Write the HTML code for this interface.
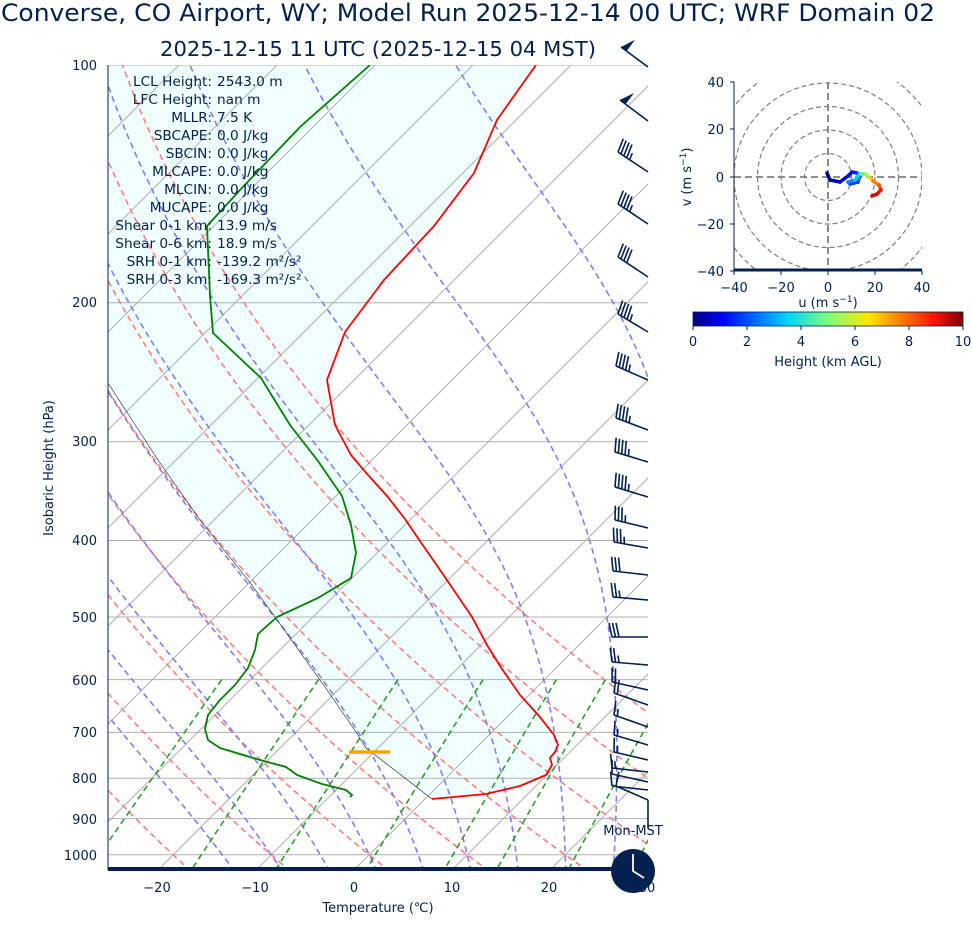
<!DOCTYPE html>
<html><head><meta charset="utf-8"><style>
body{margin:0;background:#fff;}
svg{display:block;font-family:"DejaVu Sans","Liberation Sans",sans-serif;}
</style></head><body>
<svg id="s" width="972" height="936" viewBox="0 0 972 936" xmlns="http://www.w3.org/2000/svg">
<defs>
<clipPath id="cp"><rect x="108" y="65" width="540" height="805"/></clipPath>
<clipPath id="hc"><rect x="734" y="82" width="188" height="189"/></clipPath>
<linearGradient id="jet" x1="0" x2="1" y1="0" y2="0">
<stop offset="0" stop-color="#00007f"/><stop offset="0.11" stop-color="#0000ff"/><stop offset="0.35" stop-color="#00d4ff"/><stop offset="0.5" stop-color="#7dff7a"/><stop offset="0.65" stop-color="#ffe600"/><stop offset="0.89" stop-color="#ff1400"/><stop offset="1" stop-color="#7f0000"/>
</linearGradient>
</defs>
<g id="main" clip-path="url(#cp)"></g>
<g id="barbs" stroke="#022050" fill="#022050" stroke-width="1.6"></g>
<g id="hodo"></g>
<g fill="#022050" font-size="13">
<text x="468" y="21" font-size="23.6" text-anchor="middle" textLength="934" lengthAdjust="spacingAndGlyphs">Converse, CO Airport, WY; Model Run 2025-12-14 00 UTC; WRF Domain 02</text>
<text x="378" y="56" font-size="20" text-anchor="middle" textLength="436" lengthAdjust="spacingAndGlyphs">2025-12-15 11 UTC  (2025-12-15 04 MST)</text>
<g text-anchor="end">
<text x="97" y="70">100</text><text x="97" y="307">200</text><text x="97" y="446">300</text><text x="97" y="545">400</text><text x="97" y="622">500</text><text x="97" y="685">600</text><text x="97" y="737">700</text><text x="97" y="783">800</text><text x="97" y="824">900</text><text x="97" y="860">1000</text>
</g>
<g text-anchor="middle">
<text x="157" y="892">−20</text><text x="255" y="892">−10</text><text x="354" y="892">0</text><text x="452" y="892">10</text><text x="549" y="892">20</text><text x="647" y="892">30</text>
<text x="378" y="912">Temperature (℃)</text>
</g>
<text transform="translate(53,468) rotate(-90)" text-anchor="middle">Isobaric Height (hPa)</text>
<g font-size="13.7">
<g text-anchor="end">
<text x="212" y="86">LCL Height:</text><text x="212" y="104">LFC Height:</text><text x="212" y="122">MLLR:</text><text x="212" y="140">SBCAPE:</text><text x="212" y="158">SBCIN:</text><text x="212" y="176">MLCAPE:</text><text x="212" y="194">MLCIN:</text><text x="212" y="212">MUCAPE:</text><text x="212" y="230">Shear 0-1 km:</text><text x="212" y="248">Shear 0-6 km:</text><text x="212" y="266">SRH 0-1 km:</text><text x="212" y="284">SRH 0-3 km:</text>
</g>
<g>
<text x="217" y="86">2543.0 m</text><text x="217" y="104">nan m</text><text x="217" y="122">7.5 K</text><text x="217" y="140">0.0 J/kg</text><text x="217" y="158">0.0 J/kg</text><text x="217" y="176">0.0 J/kg</text><text x="217" y="194">0.0 J/kg</text><text x="217" y="212">0.0 J/kg</text><text x="217" y="230">13.9 m/s</text><text x="217" y="248">18.9 m/s</text><text x="217" y="266">-139.2 m²/s²</text><text x="217" y="284">-169.3 m²/s²</text>
</g></g>
<text x="633" y="835" text-anchor="middle">Mon-MST</text>
<g text-anchor="end"><text x="724" y="87">40</text><text x="724" y="134">20</text><text x="724" y="182">0</text><text x="724" y="229">−20</text><text x="724" y="276">−40</text></g>
<g text-anchor="middle"><text x="734" y="292">−40</text><text x="781" y="292">−20</text><text x="828" y="292">0</text><text x="875" y="292">20</text><text x="922" y="292">40</text>
<text x="828" y="307">u (m s<tspan font-size="9" dy="-5">−1</tspan><tspan dy="5">)</tspan></text>
<text transform="translate(691,177) rotate(-90)">v (m s<tspan font-size="9" dy="-5">−1</tspan><tspan dy="5">)</tspan></text>
<text x="693" y="346">0</text><text x="747" y="346">2</text><text x="801" y="346">4</text><text x="855" y="346">6</text><text x="909" y="346">8</text><text x="963" y="346">10</text>
<text x="828" y="366">Height (km AGL)</text></g>
</g>
</svg>
<script>
const NS="http://www.w3.org/2000/svg";
function el(p,t,a){const e=document.createElementNS(NS,t);for(const k in a)e.setAttribute(k,a[k]);p.appendChild(e);return e;}
const Y=p=>65+343*Math.log(p/100);
const X=(T,p)=>354+9.8*T+(870-Y(p));
const M=document.getElementById('main');
const ps=[];for(let p=1050;p>=100;p-=5)ps.push(p);
function pl(pts,a){el(M,'polyline',Object.assign({points:pts.map(q=>q[0].toFixed(1)+','+q[1].toFixed(1)).join(' '),fill:'none'},a));}
const red=[[432,799],[486,794],[520,786],[546,775],[552,765],[550,758],[555,752],[558,745],[554,735],[539,716],[520,695],[502,669],[487,645],[472,617],[455,592],[438,567],[422,544],[405,519],[387,496],[368,475],[351,455],[335,425],[327,380],[345,332],[384,280],[434,226],[474,173],[497,120],[536,65]];
const parcel=[[432,799],[366,748],[356,732],[325,687],[275,617],[248,580],[200,520],[158,460],[108,383],[-300,-120]];
el(M,'polygon',{points:red.concat(parcel.slice().reverse()).map(q=>q.join(',')).join(' '),fill:'#f0ffff'});
for(let p=100;p<=1000;p+=100)pl([[108,Y(p)],[648,Y(p)]],{stroke:'#b0b0b0','stroke-width':1});
for(let T=-120;T<=50;T+=10)pl([[X(T,1050),Y(1050)],[X(T,100),Y(100)]],{stroke:'#b0b0b0','stroke-width':1});
for(let T0=-30;T0<=50;T0+=10){const th=T0+273.15;pl(ps.map(p=>[X(th*Math.pow(p/1000,0.2857)-273.15,p),Y(p)]),{stroke:'#ff7f7f','stroke-width':1.6,'stroke-dasharray':'6,4'});}
function es(T){return 6.112*Math.exp(17.67*T/(T+243.5));}
function gm(T,p){const Tk=T+273.15,rs=0.622*es(T)/(p-es(T)),Rd=287,Lv=2.5e6,cp=1005;
return (Rd*Tk+Lv*rs)/(cp+Lv*Lv*rs*0.622/(Rd*Tk*Tk))/p;}
for(let T0=-15;T0<=30;T0+=5){let pts=[];let T=T0;
for(let p=1000;p>=100;p-=2){pts.push([X(T,p),Y(p)]);T-=gm(T,p)*2;}
let dn=[];T=T0;for(let p=1000;p<=1050;p+=2){dn.push([X(T,p),Y(p)]);T+=gm(T,p)*2;}
pl(dn.reverse().concat(pts),{stroke:'#7f7fff','stroke-width':1.6,'stroke-dasharray':'6,4'});}
[0.0004,0.001,0.002,0.004,0.007,0.01,0.016,0.024,0.032].forEach(w=>{const pts=[];for(let p=600;p<=1050;p+=10){const e=p*w/(0.622+w),l=Math.log(e/6.112);pts.push([X(243.5*l/(17.67-l),p),Y(p)]);}
pl(pts,{stroke:'#2ca02c','stroke-width':1.6,'stroke-dasharray':'6,4'});});
pl(parcel,{stroke:'#0a1a30','stroke-width':0.6});
pl(red,{stroke:'#ff0000','stroke-width':1.8});
pl([[350,797],[352,795],[346,790],[322,784],[297,775],[286,767],[260,760],[220,748],[208,740],[205,729],[208,715],[220,700],[235,685],[248,668],[255,650],[258,634],[277,617],[318,598],[351,578],[356,553],[351,525],[342,496],[318,461],[290,425],[261,378],[213,333],[210,296],[207,226],[240,190],[300,127],[370,65]],{stroke:'#008000','stroke-width':1.8});
pl([[349,752],[390,752]],{stroke:'#ffa500','stroke-width':3.5});
const S=document.getElementById('s');
el(S,'line',{x1:108,y1:65,x2:108,y2:870,stroke:'#022050','stroke-width':1});
el(S,'line',{x1:108,y1:869,x2:648,y2:869,stroke:'#022050','stroke-width':4});
const B=document.getElementById('barbs');
function barb(y,sx,sy,full,half,pen){const L=Math.hypot(sx,sy),ux=sx/L,uy=sy/L,bx=648,by=y,tx=bx+sx,ty=by+sy;
el(B,'line',{x1:bx,y1:by,x2:tx,y2:ty});
let fx=uy,fy=-ux;if(fy>0){fx=-fx;fy=-fy;}
let d=0;for(let i=0;i<pen;i++){const ax=tx-ux*d,ay=ty-uy*d;el(B,'polygon',{points:`${ax},${ay} ${ax-ux*7+fx*14},${ay-uy*7+fy*14} ${ax-ux*7},${ay-uy*7}`,stroke:'none'});d+=8;}
for(let i=0;i<full;i++){const ax=tx-ux*d,ay=ty-uy*d;el(B,'line',{x1:ax,y1:ay,x2:ax+fx*14+ux*3,y2:ay+fy*14+uy*3});d+=3.5;}
if(half){const ax=tx-ux*d,ay=ty-uy*d;el(B,'line',{x1:ax,y1:ay,x2:ax+fx*7+ux*1.5,y2:ay+fy*7+uy*1.5});}}
barb(67,-27,-20,0,0,1);barb(121,-28,-21,0,0,1);
[[172,-30,-20,4,1],[224,-30,-20,4,1],[277,-30,-20,4,0],[332,-30,-18,4,1],[380,-32,-14,4,1],[430,-32,-12,4,1],[462,-33,-10,4,1],[497,-33,-10,4,1],[528,-33,-8,3,1],[548,-34,-6,3,1],[575,-35,-4,3,0],[600,-35,-3,2,1],[637,-36,0,3,0],[665,-36,-3,2,1],[690,-36,-8,2,0],[705,-34,-12,2,0],[727,-34,-12,1,1],[745,-34,-10,1,1],[760,-34,-8,1,1],[772,-36,-4,1,1],[782,-36,-8,1,0],[790,-36,-4,1,0],[800,-32,-14,1,0],[828,0,-28,0,0]].forEach(b=>barb(b[0],b[1],b[2],b[3],b[4],0));
el(S,'circle',{cx:633,cy:871,r:22,fill:'#022050'});
el(S,'polyline',{points:'633,854 633,871 644,878',fill:'none',stroke:'#fff','stroke-width':1.8});
const H=document.getElementById('hodo');
const hg=el(H,'g',{'clip-path':'url(#hc)'});
for(let r=1;r<=6;r++)el(hg,'circle',{cx:828,cy:177,r:23.5*r,fill:'none',stroke:'#808080','stroke-width':1.2,'stroke-dasharray':'5,3'});
el(hg,'line',{x1:734,y1:177,x2:922,y2:177,stroke:'#808080','stroke-width':1.8,'stroke-dasharray':'7,4'});
el(hg,'line',{x1:828,y1:82,x2:828,y2:271,stroke:'#808080','stroke-width':1.8,'stroke-dasharray':'7,4'});
el(H,'line',{x1:734,y1:82,x2:734,y2:271,stroke:'#022050','stroke-width':1});
el(H,'line',{x1:734,y1:270,x2:922,y2:270,stroke:'#022050','stroke-width':3});
[82,129,177,224,271].forEach(t=>el(H,'line',{x1:730,y1:t,x2:734,y2:t,stroke:'#022050'}));
[734,781,828,875,922].forEach(x=>el(H,'line',{x1:x,y1:271,x2:x,y2:275,stroke:'#022050'}));
const hp=[[827,173,'#00008f'],[830,180,'#00008f'],[840,182,'#0000b0'],[848,176,'#0000d0'],[852,172,'#0000e0'],[857,173,'#0010ff'],[860,176,'#0040ff'],[858,182,'#0060ff'],[850,184,'#0030ff'],[848,182,'#0050ff'],[855,180,'#0090ff'],[860,174,'#00d0ff'],[866,174,'#40ffb0'],[869,177,'#a0ff50'],[873,181,'#ffd000'],[879,185,'#ff8000'],[881,190,'#ff5000'],[877,194,'#ff1000'],[872,196,'#e00000']];
for(let i=1;i<hp.length;i++)el(H,'line',{x1:hp[i-1][0],y1:hp[i-1][1],x2:hp[i][0],y2:hp[i][1],stroke:hp[i][2],'stroke-width':3.5,'stroke-linecap':'round'});
el(H,'rect',{x:693,y:312,width:270,height:14,fill:'url(#jet)',stroke:'#022050','stroke-width':0.8});
[693,747,801,855,909,963].forEach(x=>el(H,'line',{x1:x,y1:326,x2:x,y2:330,stroke:'#022050'}));
</script>
</body></html>
